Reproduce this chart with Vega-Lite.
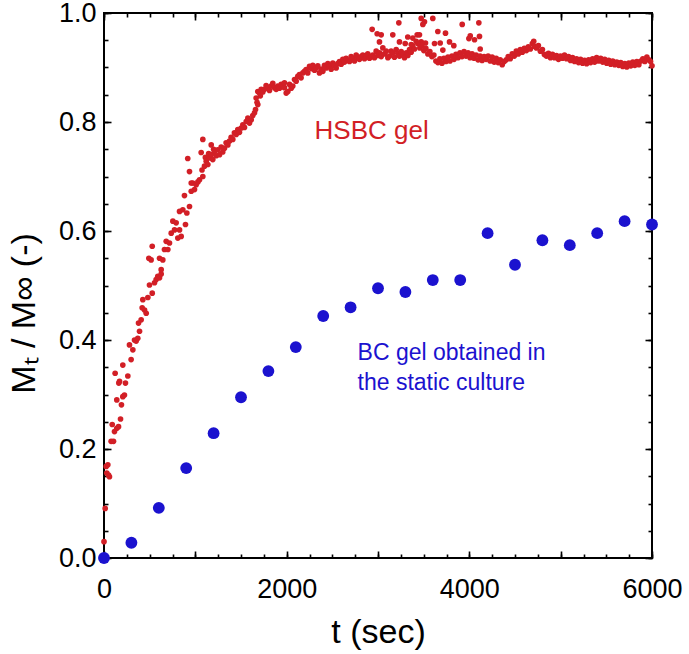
{
"$schema": "https://vega.github.io/schema/vega-lite/v6.json",
"width": 548, "height": 545,
"autosize": "none",
"padding": {"left": 104, "top": 13, "right": 37, "bottom": 96},
"background": "white",
"config": {"view": {"stroke": "black", "strokeWidth": 2}, "font": "Liberation Sans",
  "axis": {"grid": false, "domain": false, "tickColor": "black", "tickWidth": 1.6, "labelColor": "black", "titleColor": "black", "labelFont": "Liberation Sans", "titleFont": "Liberation Sans", "titleFontWeight": "normal", "labelFlush": false}},
"datasets": {
"hsbc": [
{"t":0,"m":0.03},{"t":13,"m":0.091},{"t":24,"m":0.168},{"t":31,"m":0.156},{"t":42,"m":0.171},{"t":50,"m":0.152},{"t":60,"m":0.149},{"t":78,"m":0.214},{"t":90,"m":0.245},{"t":104,"m":0.214},{"t":115,"m":0.232},{"t":122,"m":0.339},{"t":140,"m":0.238},{"t":140,"m":0.29},{"t":159,"m":0.241},{"t":162,"m":0.321},{"t":170,"m":0.324},{"t":181,"m":0.255},{"t":191,"m":0.281},{"t":206,"m":0.296},{"t":206,"m":0.354},{"t":224,"m":0.299},{"t":235,"m":0.321},{"t":261,"m":0.334},{"t":279,"m":0.391},{"t":297,"m":0.364},{"t":316,"m":0.382},{"t":334,"m":0.40},{"t":352,"m":0.398},{"t":370,"m":0.403},{"t":378,"m":0.431},{"t":389,"m":0.416},{"t":407,"m":0.437},{"t":418,"m":0.459},{"t":425,"m":0.474},{"t":444,"m":0.455},{"t":462,"m":0.449},{"t":480,"m":0.478},{"t":491,"m":0.55},{"t":498,"m":0.501},{"t":516,"m":0.547},{"t":528,"m":0.486},{"t":528,"m":0.572},{"t":553,"m":0.505},{"t":571,"m":0.511},{"t":589,"m":0.517},{"t":608,"m":0.514},{"t":608,"m":0.55},{"t":626,"m":0.521},{"t":626,"m":0.529},{"t":644,"m":0.547},{"t":662,"m":0.566},{"t":681,"m":0.581},{"t":699,"m":0.566},{"t":717,"m":0.578},{"t":736,"m":0.596},{"t":754,"m":0.618},{"t":772,"m":0.602},{"t":790,"m":0.615},{"t":808,"m":0.587},{"t":827,"m":0.602},{"t":827,"m":0.636},{"t":845,"m":0.59},{"t":863,"m":0.639},{"t":881,"m":0.665},{"t":892,"m":0.612},{"t":907,"m":0.633},{"t":917,"m":0.733},{"t":936,"m":0.645},{"t":936,"m":0.709},{"t":955,"m":0.673},{"t":955,"m":0.688},{"t":972,"m":0.688},{"t":991,"m":0.676},{"t":1009,"m":0.685},{"t":1028,"m":0.69},{"t":1046,"m":0.694},{"t":1064,"m":0.744},{"t":1073,"m":0.712},{"t":1082,"m":0.70},{"t":1082,"m":0.768},{"t":1100,"m":0.719},{"t":1110,"m":0.735},{"t":1119,"m":0.728},{"t":1137,"m":0.722},{"t":1146,"m":0.742},{"t":1155,"m":0.734},{"t":1174,"m":0.74},{"t":1174,"m":0.758},{"t":1191,"m":0.731},{"t":1200,"m":0.75},{"t":1210,"m":0.746},{"t":1228,"m":0.738},{"t":1246,"m":0.749},{"t":1265,"m":0.74},{"t":1283,"m":0.754},{"t":1300,"m":0.745},{"t":1319,"m":0.752},{"t":1337,"m":0.762},{"t":1356,"m":0.758},{"t":1374,"m":0.765},{"t":1392,"m":0.772},{"t":1410,"m":0.768},{"t":1428,"m":0.78},{"t":1447,"m":0.777},{"t":1465,"m":0.786},{"t":1483,"m":0.781},{"t":1502,"m":0.789},{"t":1520,"m":0.795},{"t":1538,"m":0.79},{"t":1557,"m":0.801},{"t":1575,"m":0.807},{"t":1593,"m":0.798},{"t":1612,"m":0.804},{"t":1629,"m":0.812},{"t":1648,"m":0.817},{"t":1659,"m":0.823},{"t":1666,"m":0.844},{"t":1675,"m":0.836},{"t":1684,"m":0.832},{"t":1684,"m":0.856},{"t":1703,"m":0.853},{"t":1712,"m":0.848},{"t":1721,"m":0.86},{"t":1739,"m":0.855},{"t":1757,"m":0.86},{"t":1775,"m":0.867},{"t":1794,"m":0.863},{"t":1812,"m":0.858},{"t":1830,"m":0.866},{"t":1848,"m":0.871},{"t":1867,"m":0.863},{"t":1885,"m":0.86},{"t":1903,"m":0.866},{"t":1921,"m":0.862},{"t":1940,"m":0.869},{"t":1958,"m":0.865},{"t":1976,"m":0.863},{"t":1976,"m":0.872},{"t":1995,"m":0.853},{"t":2013,"m":0.856},
{"t":2031,"m":0.869},{"t":2050,"m":0.862},{"t":2067,"m":0.866},{"t":2086,"m":0.878},{"t":2104,"m":0.875},{"t":2122,"m":0.884},{"t":2140,"m":0.887},{"t":2158,"m":0.881},{"t":2177,"m":0.89},{"t":2195,"m":0.893},{"t":2213,"m":0.896},{"t":2231,"m":0.89},{"t":2250,"m":0.902},{"t":2268,"m":0.898},{"t":2286,"m":0.904},{"t":2305,"m":0.895},{"t":2323,"m":0.899},{"t":2341,"m":0.903},{"t":2359,"m":0.89},{"t":2378,"m":0.897},{"t":2396,"m":0.893},{"t":2414,"m":0.904},{"t":2433,"m":0.899},{"t":2451,"m":0.907},{"t":2469,"m":0.902},{"t":2487,"m":0.897},{"t":2505,"m":0.908},{"t":2524,"m":0.904},{"t":2542,"m":0.899},{"t":2560,"m":0.907},{"t":2578,"m":0.911},{"t":2597,"m":0.906},{"t":2615,"m":0.915},{"t":2633,"m":0.91},{"t":2651,"m":0.917},{"t":2670,"m":0.913},{"t":2688,"m":0.911},{"t":2706,"m":0.92},{"t":2724,"m":0.917},{"t":2743,"m":0.912},{"t":2761,"m":0.923},{"t":2779,"m":0.918},{"t":2797,"m":0.915},{"t":2815,"m":0.92},{"t":2834,"m":0.923},{"t":2852,"m":0.916},{"t":2870,"m":0.921},{"t":2888,"m":0.925},{"t":2907,"m":0.917},{"t":2925,"m":0.92},{"t":2943,"m":0.923},{"t":2961,"m":0.918},{"t":2980,"m":0.93},{"t":2998,"m":0.922},{"t":3016,"m":0.927},{"t":3035,"m":0.92},{"t":3053,"m":0.936},{"t":3071,"m":0.925},{"t":3090,"m":0.93},{"t":3108,"m":0.918},{"t":3126,"m":0.921},{"t":3144,"m":0.93},{"t":3162,"m":0.927},{"t":3180,"m":0.919},{"t":3199,"m":0.933},{"t":3217,"m":0.926},{"t":3235,"m":0.921},{"t":3254,"m":0.929},{"t":3272,"m":0.923},{"t":3290,"m":0.918},{"t":3309,"m":0.927},{"t":3327,"m":0.922},{"t":3345,"m":0.933},{"t":3363,"m":0.928},{"t":3381,"m":0.94},{"t":3400,"m":0.934},{"t":3418,"m":0.948},
{"t":2936,"m":0.97},{"t":2991,"m":0.962},{"t":3035,"m":0.96},{"t":3016,"m":0.947},{"t":3162,"m":0.96},{"t":3228,"m":0.982},{"t":3235,"m":0.947},{"t":3298,"m":0.944},{"t":3326,"m":0.956},{"t":3364,"m":0.942},{"t":3429,"m":0.96},{"t":3473,"m":0.99},{"t":3509,"m":0.984},{"t":3600,"m":0.99},{"t":3491,"m":0.979},{"t":3454,"m":0.96},{"t":3381,"m":0.954},{"t":3473,"m":0.947},{"t":3655,"m":0.966},{"t":3739,"m":0.963},{"t":3619,"m":0.944},{"t":3681,"m":0.945},{"t":3783,"m":0.947},{"t":3830,"m":0.94},{"t":3710,"m":0.932},{"t":3922,"m":0.979},{"t":4104,"m":0.982},{"t":4010,"m":0.958},{"t":3995,"m":0.953},{"t":4057,"m":0.951},{"t":4111,"m":0.957},{"t":4119,"m":0.934},{"t":3520,"m":0.945},
{"t":3436,"m":0.944},{"t":3458,"m":0.936},{"t":3480,"m":0.94},{"t":3502,"m":0.931},{"t":3524,"m":0.935},{"t":3546,"m":0.925},{"t":3568,"m":0.929},{"t":3590,"m":0.92},{"t":3612,"m":0.923},{"t":3634,"m":0.912},{"t":3656,"m":0.909},{"t":3678,"m":0.916},{"t":3700,"m":0.908},{"t":3722,"m":0.917},{"t":3744,"m":0.911},{"t":3766,"m":0.919},{"t":3788,"m":0.912},{"t":3810,"m":0.921},{"t":3832,"m":0.915},{"t":3854,"m":0.924},{"t":3876,"m":0.918},{"t":3898,"m":0.927},{"t":3920,"m":0.92},{"t":3942,"m":0.929},{"t":3964,"m":0.921},{"t":3986,"m":0.927},{"t":4008,"m":0.918},{"t":4030,"m":0.925},{"t":4052,"m":0.917},{"t":4074,"m":0.923},{"t":4096,"m":0.914},{"t":4118,"m":0.921},{"t":4140,"m":0.913},{"t":4162,"m":0.92},{"t":4184,"m":0.915},{"t":4206,"m":0.921},{"t":4228,"m":0.912},{"t":4250,"m":0.919},{"t":4272,"m":0.91},{"t":4294,"m":0.917},{"t":4316,"m":0.909},{"t":4338,"m":0.914},{"t":4360,"m":0.905},{"t":4382,"m":0.911},{"t":4404,"m":0.914},{"t":4426,"m":0.92},{"t":4448,"m":0.916},{"t":4470,"m":0.925},{"t":4492,"m":0.921},{"t":4514,"m":0.93},{"t":4536,"m":0.925},{"t":4558,"m":0.933},{"t":4580,"m":0.928},{"t":4602,"m":0.935},{"t":4624,"m":0.931},{"t":4646,"m":0.938},{"t":4668,"m":0.934},{"t":4690,"m":0.944},{"t":4705,"m":0.948},{"t":4712,"m":0.939},{"t":4734,"m":0.936},{"t":4756,"m":0.94},{"t":4778,"m":0.93},{"t":4800,"m":0.933},{"t":4822,"m":0.924},{"t":4844,"m":0.921},{"t":4866,"m":0.926},{"t":4888,"m":0.918},{"t":4910,"m":0.924},{"t":4932,"m":0.918},{"t":4954,"m":0.922},{"t":4976,"m":0.915},{"t":4998,"m":0.921},{"t":5020,"m":0.917},{"t":5042,"m":0.923},{"t":5064,"m":0.916},{"t":5086,"m":0.92},{"t":5108,"m":0.913},{"t":5130,"m":0.918},{"t":5152,"m":0.911},{"t":5174,"m":0.916},{"t":5196,"m":0.909},{"t":5218,"m":0.915},{"t":5240,"m":0.908},{"t":5262,"m":0.913},{"t":5284,"m":0.907},{"t":5306,"m":0.914},{"t":5328,"m":0.909},{"t":5350,"m":0.916},{"t":5372,"m":0.91},{"t":5394,"m":0.918},{"t":5416,"m":0.912},{"t":5438,"m":0.917},{"t":5460,"m":0.91},{"t":5482,"m":0.915},{"t":5504,"m":0.908},{"t":5526,"m":0.913},{"t":5548,"m":0.906},{"t":5570,"m":0.912},{"t":5592,"m":0.905},{"t":5614,"m":0.91},{"t":5636,"m":0.904},{"t":5658,"m":0.909},{"t":5680,"m":0.902},{"t":5702,"m":0.907},{"t":5724,"m":0.901},{"t":5746,"m":0.908},{"t":5768,"m":0.903},{"t":5790,"m":0.91},{"t":5812,"m":0.904},{"t":5834,"m":0.911},{"t":5856,"m":0.905},{"t":5878,"m":0.912},{"t":5900,"m":0.916},{"t":5922,"m":0.911},{"t":5944,"m":0.919},{"t":5966,"m":0.914},{"t":5984,"m":0.911},{"t":6000,"m":0.903}
],
"bc": [
{"t":0,"m":0.0},{"t":300,"m":0.028},{"t":600,"m":0.092},{"t":900,"m":0.165},{"t":1200,"m":0.229},{"t":1500,"m":0.295},{"t":1800,"m":0.343},{"t":2100,"m":0.387},{"t":2400,"m":0.444},{"t":2700,"m":0.46},{"t":3000,"m":0.495},{"t":3300,"m":0.488},{"t":3600,"m":0.51},{"t":3900,"m":0.51},{"t":4200,"m":0.596},{"t":4500,"m":0.538},{"t":4800,"m":0.583},{"t":5100,"m":0.574},{"t":5400,"m":0.596},{"t":5700,"m":0.618},{"t":6000,"m":0.612}
],
"labels": [
{"t":2305,"m":0.768,"label":"HSBC gel","series":"hsbc"},
{"t":2776,"m":0.364,"label":"BC gel obtained in\nthe static culture","series":"bc"}
]
},
"resolve": {"axis": {"x": "independent", "y": "independent"}},
"layer": [
{
 "data": {"name": "hsbc"},
 "mark": {"type": "circle", "size": 32, "color": "#d21f26", "opacity": 1},
 "encoding": {
  "x": {"field": "t", "type": "quantitative", "scale": {"domain": [0, 6000], "nice": false},
        "axis": {"orient": "bottom", "values": [0, 2000, 4000, 6000], "format": "d", "ticks": false, "labelFontSize": 27, "labelPadding": 18, "title": "t (sec)", "titleFontSize": 34, "titlePadding": 13}},
  "y": {"field": "m", "type": "quantitative", "scale": {"domain": [0, 1], "nice": false},
        "axis": {"orient": "left", "values": [0, 0.2, 0.4, 0.6, 0.8, 1.0], "format": ".1f", "ticks": false, "labelFontSize": 27, "labelPadding": 8, "title": "Mₜ / M∞ (-)", "titleFontSize": 34, "titlePadding": 17, "titleY": 300}}
 }
},
{
 "data": {"name": "bc"},
 "mark": {"type": "circle", "size": 140, "color": "#1b12cf", "opacity": 1},
 "encoding": {
  "x": {"field": "t", "type": "quantitative", "axis": {"orient": "bottom", "values": [0,250,500,750,1000,1250,1500,1750,2000,2250,2500,2750,3000,3250,3500,3750,4000,4250,4500,4750,5000,5250,5500,5750,6000], "labels": false, "tickSize": -4, "title": null}},
  "y": {"field": "m", "type": "quantitative", "axis": {"orient": "left", "values": [0,0.05,0.1,0.15,0.2,0.25,0.3,0.35,0.4,0.45,0.5,0.55,0.6,0.65,0.7,0.75,0.8,0.85,0.9,0.95,1.0], "labels": false, "tickSize": -4, "title": null}}
 }
},
{
 "data": {"name": "labels"},
 "transform": [{"filter": "datum.series === 'hsbc'"}],
 "mark": {"type": "text", "align": "left", "baseline": "alphabetic", "fontSize": 26, "color": "#d21f26", "font": "Liberation Sans"},
 "encoding": {
  "text": {"field": "label"},
  "x": {"field": "t", "type": "quantitative", "axis": {"orient": "bottom", "values": [0,1000,2000,3000,4000,5000,6000], "labels": false, "tickSize": -7, "title": null}},
  "y": {"field": "m", "type": "quantitative", "axis": {"orient": "left", "values": [0,0.2,0.4,0.6,0.8,1.0], "labels": false, "tickSize": -7, "title": null}}
 }
},
{
 "data": {"name": "labels"},
 "transform": [{"filter": "datum.series === 'bc'"}],
 "mark": {"type": "text", "align": "left", "baseline": "alphabetic", "fontSize": 23, "lineHeight": 30, "lineBreak": "\n", "color": "#1b12cf", "font": "Liberation Sans"},
 "encoding": {
  "text": {"field": "label"},
  "x": {"field": "t", "type": "quantitative", "axis": {"orient": "top", "values": [0,250,500,750,1000,1250,1500,1750,2000,2250,2500,2750,3000,3250,3500,3750,4000,4250,4500,4750,5000,5250,5500,5750,6000], "labels": false, "tickSize": -4, "title": null}},
  "y": {"field": "m", "type": "quantitative", "axis": {"orient": "right", "values": [0,0.05,0.1,0.15,0.2,0.25,0.3,0.35,0.4,0.45,0.5,0.55,0.6,0.65,0.7,0.75,0.8,0.85,0.9,0.95,1.0], "labels": false, "tickSize": -4, "title": null}}
 }
},
{
 "data": {"name": "bc"},
 "mark": {"type": "point", "opacity": 0},
 "encoding": {
  "x": {"field": "t", "type": "quantitative", "axis": {"orient": "top", "values": [0,1000,2000,3000,4000,5000,6000], "labels": false, "tickSize": -7, "title": null}},
  "y": {"field": "m", "type": "quantitative", "axis": {"orient": "right", "values": [0,0.2,0.4,0.6,0.8,1.0], "labels": false, "tickSize": -7, "title": null}}
 }
}
]
}
